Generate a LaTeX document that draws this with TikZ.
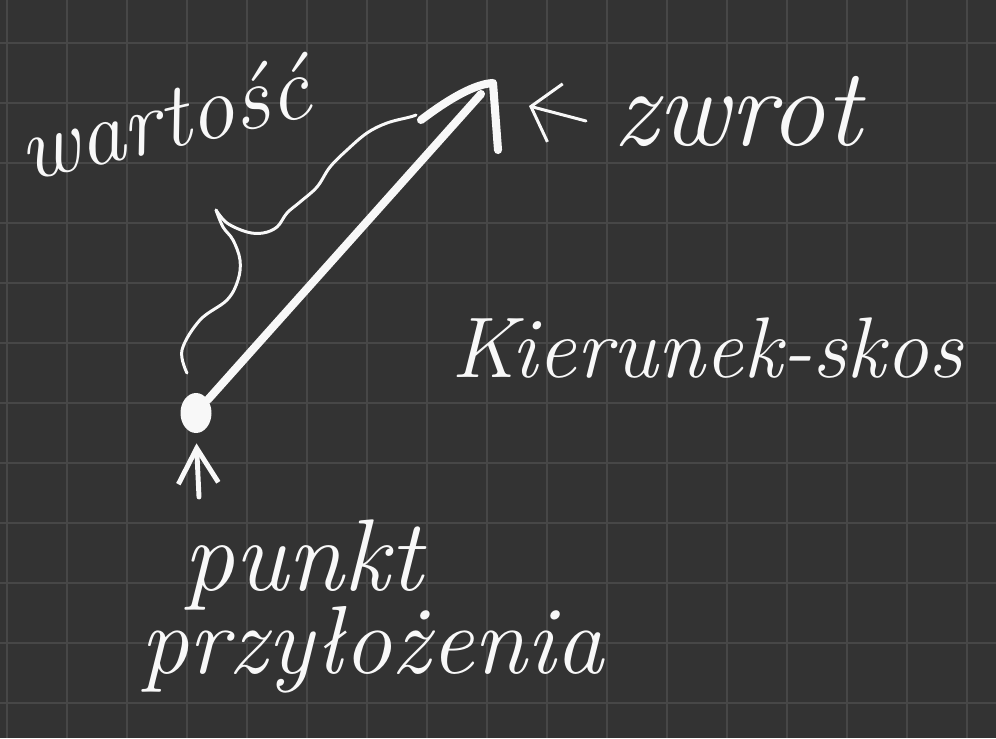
\documentclass[tikz,border=0pt]{standalone}
\usetikzlibrary{shapes.geometric, arrows.meta}
\definecolor{board}{HTML}{333333}
\definecolor{gridline}{HTML}{474747}
\definecolor{chalk}{HTML}{F8F8F8}

\begin{document}
\begin{tikzpicture}[x=0.02cm, y=-0.02cm,
    hand/.style={text=chalk, inner sep=0, font=\itshape},
    pen/.style={draw=chalk, line width=1.7pt, line cap=round, line join=round},
    thickpen/.style={draw=chalk, line width=4.6pt, line cap=round, line join=round}]
  % board with grid
  \fill[board] (0,0) rectangle (996,738);
  \useasboundingbox (0,0) rectangle (996,738);
  \foreach \gx in {7,67,...,967}
    \draw[gridline, line width=1.1pt] (\gx,0) -- (\gx,738);
  \foreach \gy in {43,103,...,703}
    \draw[gridline, line width=1.1pt] (0,\gy) -- (996,\gy);

  % the vector
  \node [ellipse, fill=chalk, minimum width=0.62cm, minimum height=0.8cm, inner sep=0] (dot) at (196,413) {};
  \coordinate (tip) at (481,94);
  \coordinate (barb-l) at (421,120);
  \coordinate (apex) at (493,83);
  \coordinate (barb-r) at (498,150);
  \draw[thickpen] (dot) -- (tip);
  \draw[thickpen] (barb-l) .. controls (450,98) and (475,84) .. (apex) -- (barb-r);

  % labels
  \node [hand, anchor=base west, rotate=13, font=\fontsize{52}{52}\selectfont\itshape] (value) at (26,182) {wartość};
  \node [hand, anchor=base west, font=\fontsize{63}{63}\selectfont\itshape] (sense) at (613,145) {zwrot};
  \node [hand, anchor=base west, font=\fontsize{49}{49}\selectfont\itshape] (direction) at (451,377) {Kierunek-skos};
  \node [hand, anchor=base west, font=\fontsize{58}{58}\selectfont\itshape] (point) at (183,590) {punkt};
  \node [hand, anchor=base west, font=\fontsize{55}{55}\selectfont\itshape] (appl) at (140,673) {przyłożenia};

  % brace along the vector
  \draw[pen] plot[smooth, tension=0.6] coordinates {(187,373) (182,350) (200,320) (227,300) (238,280) (240,260) (233,240) (223,227) (216,210)};
  \draw[pen] plot[smooth, tension=0.6] coordinates {(216,210) (227,223) (247,232) (263,233) (277,227) (287,213) (300,202) (317,187) (330,167) (347,150) (367,133) (387,123) (410,117) (416,115)};

  % pointers
  \coordinate (sense-tail) at (586,121);
  \coordinate (sense-head) at (529,106);
  \draw[pen, -{Straight Barb[length=5mm, width=12mm, line width=1.7pt]}] (sense-tail) -- (sense-head);
  \coordinate (point-tail) at (199,497);
  \draw[pen, line width=2.8pt, shorten >=0.2cm, -{Straight Barb[length=7mm, width=8mm, line width=2.8pt]}] (point-tail) -- (dot.south);
\end{tikzpicture}
\end{document}
